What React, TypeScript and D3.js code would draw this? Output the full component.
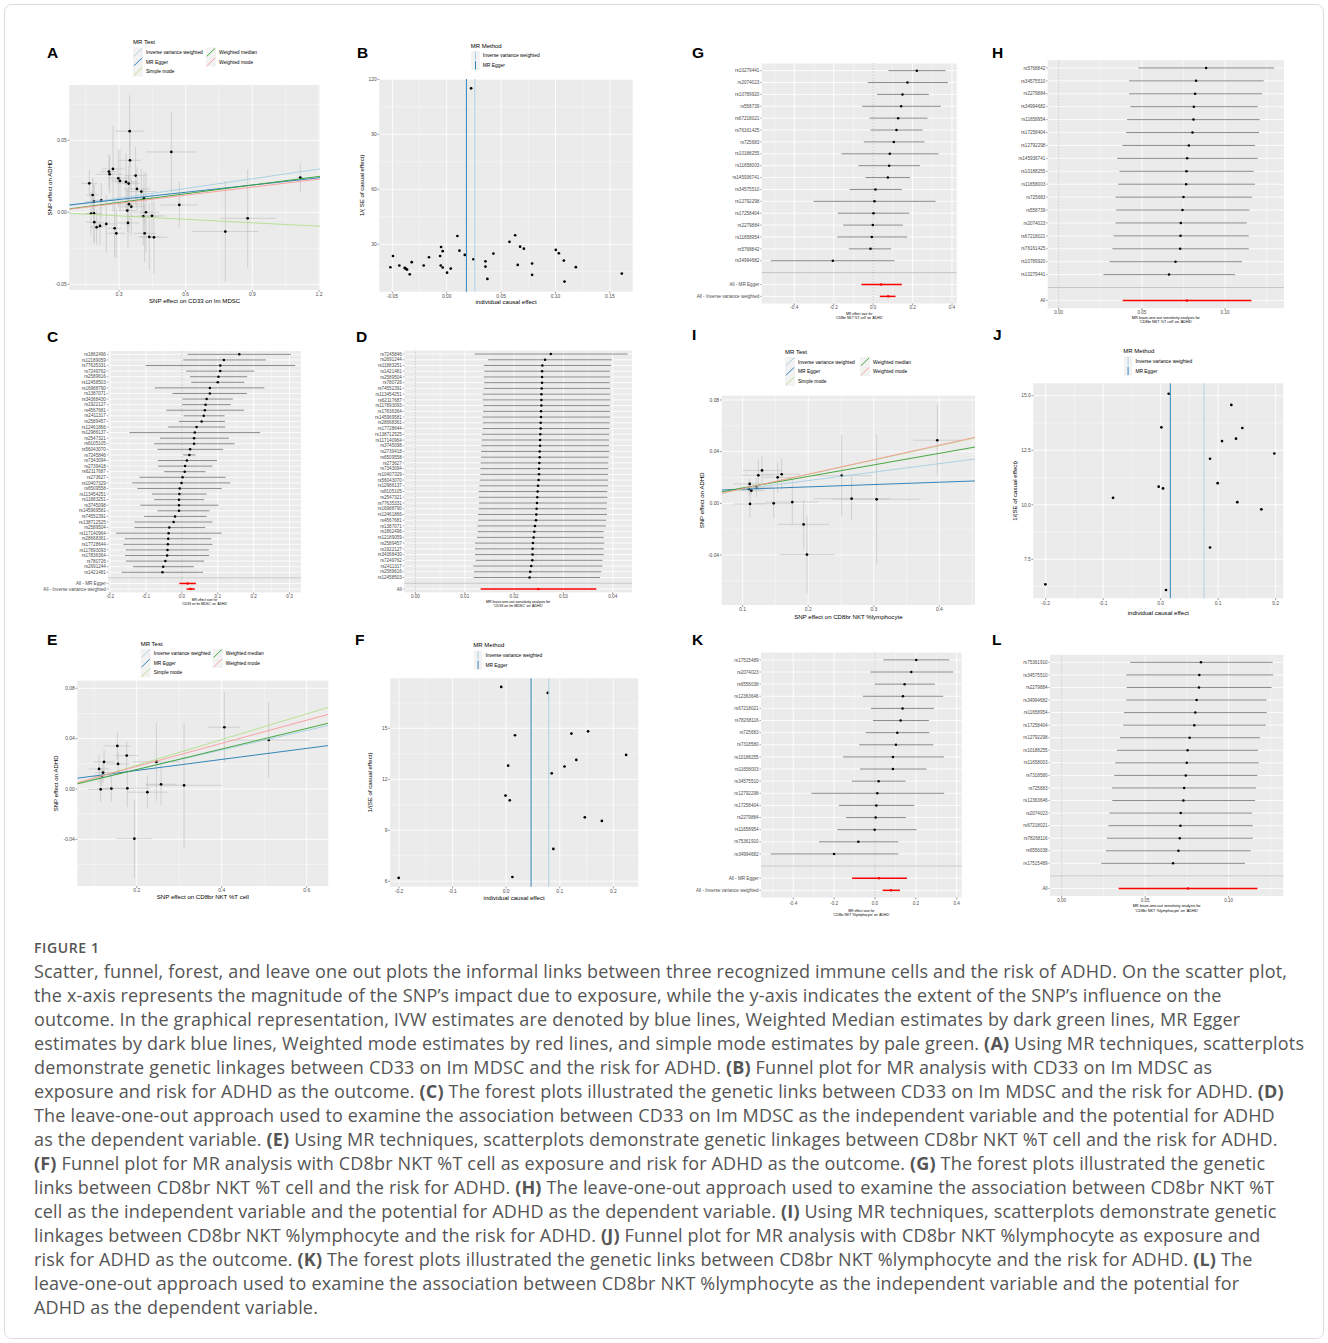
import React from "react";
import * as d3 from "d3";

// ---------- shared method legend ----------
const METHODS = ["Inverse variance weighted", "MR Egger", "Simple mode", "Weighted median", "Weighted mode"];
const METHOD_COLORS = ["#a6cee3", "#1f78b4", "#b2df8a", "#33a02c", "#fb9a99"];

// ---------- A: scatter, CD33 on Im MDSC ----------
const aExposure = [0.1665, 0.1815, 0.1875, 0.174, 0.1875, 0.189, 0.1995, 0.2145, 0.2205, 0.243, 0.255, 0.258, 0.273, 0.2805, 0.288, 0.297, 0.3045, 0.3315, 0.3435, 0.348, 0.3495, 0.3375, 0.3405, 0.345, 0.3555, 0.375, 0.381, 0.4005, 0.4125, 0.4095, 0.4215, 0.4155, 0.4365, 0.4485, 0.4575, 0.5355, 0.5715, 0.7785, 0.879, 1.116];
const aOutcome = [0.0201, 0.012, 0.0074, -0.0009, -0.0007, -0.0069, -0.0104, -0.0095, 0.0083, -0.0081, 0.0282, 0.0264, 0.0301, -0.0111, -0.0146, 0.0236, 0.0218, 0.0211, 0.0199, 0.0563, 0.0361, 0.0012, -0.0074, 0.0056, 0.0039, 0.0255, 0.0162, 0.0144, 0.0097, -0.0028, 0.0, -0.0146, -0.0171, -0.0025, -0.0174, 0.0419, 0.0051, -0.0134, -0.0042, 0.0241];
const aExposureSe = [0.037, 0.03, 0.04, 0.03, 0.035, 0.04, 0.03, 0.03, 0.05, 0.04, 0.04, 0.06, 0.05, 0.03, 0.04, 0.05, 0.04, 0.05, 0.05, 0.063, 0.05, 0.04, 0.05, 0.05, 0.06, 0.05, 0.06, 0.07, 0.05, 0.07, 0.06, 0.05, 0.05, 0.06, 0.06, 0.114, 0.084, 0.15, 0.125, 0.014];
const aOutcomeSe = [0.0095, 0.012, 0.012, 0.015, 0.02, 0.015, 0.012, 0.013, 0.012, 0.02, 0.012, 0.013, 0.03, 0.02, 0.017, 0.02, 0.022, 0.02, 0.012, 0.025, 0.02, 0.015, 0.018, 0.02, 0.02, 0.02, 0.015, 0.016, 0.018, 0.02, 0.028, 0.02, 0.023, 0.016, 0.025, 0.028, 0.016, 0.035, 0.034, 0.01];
const aIntercepts = [0.003, 0.0038, -0.0001, 0.0008, 0.0007];
const aSlopes = [0.0225, 0.0168, -0.008, 0.0201, 0.0186];

// ---------- B: funnel ----------
const bEffect = [-0.0518, -0.0494, -0.0436, -0.0387, -0.0374, -0.0365, -0.038, -0.034, -0.0322, -0.0212, -0.0163, -0.0061, -0.0055, -0.0052, -0.0037, -0.0037, 0.0003, 0.0037, 0.0098, 0.0117, 0.0166, 0.0224, 0.0245, 0.0356, 0.0356, 0.0374, 0.0429, 0.0577, 0.0629, 0.0653, 0.0675, 0.0709, 0.0785, 0.0785, 0.1003, 0.1031, 0.1077, 0.1083, 0.1187, 0.161];
const bPrecision = [17.45, 23.6, 18.4, 17.1, 16.5, 16.2, 16.9, 13.6, 20.2, 18.4, 22.9, 23.6, 18.4, 28.5, 26.2, 17.3, 14.5, 16.7, 34.5, 26.5, 24.2, 115.1, 21.8, 20.7, 17.8, 11.1, 24.9, 31.3, 34.9, 18.7, 28.7, 27.6, 19.5, 13.3, 26.9, 25.1, 21.1, 9.6, 17.5, 14.0];
const bMethodEffect = [0.0258, 0.0181]; // IVW, MR Egger

// ---------- C: forest ----------
const cSnps = ["rs1862496", "rs12189059", "rs77635331", "rs7249762", "rs2589616", "rs12458503", "rs16988790", "rs1387071", "rs34368430", "rs1922127", "rs4567681", "rs2411317", "rs2589457", "rs12461866", "rs12986137", "rs2547321", "rs8105105", "rs56043070", "rs7245846", "rs7343094", "rs2739418", "rs62117687", "rs273627", "rs10407329", "rs6509558", "rs113454251", "rs11883251", "rs3745098", "rs145969581", "rs74552391", "rs138712525", "rs2589504", "rs117140964", "rs28668361", "rs17728644", "rs117893093", "rs17836364", "rs780726", "rs2691244", "rs1421481"];
const cEst = [0.16, 0.117, 0.107, 0.107, 0.102, 0.1, 0.078, 0.078, 0.069, 0.066, 0.064, 0.061, 0.055, 0.041, 0.036, 0.034, 0.034, 0.023, 0.021, 0.014, 0.009, 0.008, 0.002, -0.001, -0.006, -0.007, -0.008, -0.008, -0.008, -0.019, -0.023, -0.035, -0.037, -0.038, -0.039, -0.04, -0.041, -0.046, -0.052, -0.054];
const cLo = [0.016, 0.004, -0.101, 0.012, 0.023, 0.026, -0.075, -0.026, 0.002, 0.001, -0.043, 0.005, -0.008, -0.038, -0.146, -0.061, -0.077, -0.068, 0.004, -0.067, -0.066, -0.05, -0.118, -0.138, -0.124, -0.083, -0.077, -0.116, -0.068, -0.105, -0.132, -0.132, -0.184, -0.159, -0.163, -0.156, -0.158, -0.156, -0.136, -0.168];
const cHi = [0.304, 0.234, 0.316, 0.202, 0.182, 0.174, 0.23, 0.181, 0.142, 0.136, 0.173, 0.119, 0.12, 0.121, 0.218, 0.131, 0.147, 0.115, 0.038, 0.098, 0.085, 0.066, 0.122, 0.135, 0.111, 0.069, 0.062, 0.102, 0.077, 0.069, 0.085, 0.065, 0.111, 0.082, 0.085, 0.075, 0.076, 0.062, 0.033, 0.059];
const forestSummaryLabels = ["All - MR Egger", "All - Inverse variance weighted"];
const cSumEst = [0.016, 0.024];
const cSumLo = [-0.007, 0.013];
const cSumHi = [0.039, 0.036];

// ---------- D: leave-one-out ----------
const dSnps = ["rs7245846", "rs2691244", "rs11883251", "rs1421481", "rs2589504", "rs780726", "rs74552391", "rs113454251", "rs62117687", "rs117893093", "rs17836364", "rs145969581", "rs28668361", "rs17728644", "rs138712525", "rs117140964", "rs3745098", "rs2739418", "rs6509558", "rs273627", "rs7343094", "rs10407329", "rs56043070", "rs12986137", "rs8105105", "rs2547321", "rs77635331", "rs16988790", "rs12461866", "rs4567681", "rs1387071", "rs1862496", "rs12189059", "rs2589457", "rs1922127", "rs34368430", "rs7249762", "rs2411317", "rs2589616", "rs12458503"];
const dEst = [0.02744, 0.02628, 0.02573, 0.02567, 0.02567, 0.02567, 0.0256, 0.02553, 0.02553, 0.02553, 0.02546, 0.02546, 0.02539, 0.02539, 0.02532, 0.02526, 0.02526, 0.02519, 0.02519, 0.02512, 0.02505, 0.02505, 0.02498, 0.02485, 0.02478, 0.02471, 0.02464, 0.02457, 0.02451, 0.02444, 0.02423, 0.0241, 0.02396, 0.02382, 0.02375, 0.02375, 0.02369, 0.02348, 0.02328, 0.02314];
const dLo = [0.01201, 0.01468, 0.01386, 0.01399, 0.01386, 0.01392, 0.01386, 0.01365, 0.01365, 0.01379, 0.01372, 0.01358, 0.01365, 0.01365, 0.01352, 0.01345, 0.01338, 0.01331, 0.01331, 0.01324, 0.01317, 0.01317, 0.01304, 0.01297, 0.01283, 0.01283, 0.0129, 0.01283, 0.0127, 0.0127, 0.01256, 0.01263, 0.01249, 0.01208, 0.01208, 0.01208, 0.01222, 0.01174, 0.01188, 0.01181];
const dHi = [0.043, 0.0398, 0.03966, 0.03945, 0.03945, 0.03939, 0.03945, 0.03952, 0.03952, 0.03939, 0.03945, 0.03945, 0.03939, 0.03932, 0.03932, 0.03925, 0.03925, 0.03932, 0.03918, 0.03911, 0.03911, 0.03904, 0.03904, 0.03904, 0.03891, 0.03891, 0.03884, 0.03877, 0.03884, 0.0387, 0.03863, 0.03816, 0.03816, 0.03829, 0.03816, 0.03816, 0.03795, 0.03788, 0.03768, 0.03741];
const dAll = [0.02491, 0.01324, 0.03666]; // est, lo, hi

// ---------- E: scatter, CD8br NKT %T cell ----------
const eExposure = [0.1114, 0.1153, 0.1176, 0.1208, 0.1231, 0.1404, 0.1545, 0.1561, 0.1765, 0.178, 0.1945, 0.2251, 0.2463, 0.2573, 0.3114, 0.4063, 0.5106];
const eOutcome = [0.0159, -0.0003, 0.0098, 0.013, 0.0215, 0.0003, 0.0342, 0.0199, 0.0265, 0.0005, -0.0395, -0.0026, 0.0215, 0.0037, 0.0029, 0.049, 0.0389];
const eExposureSe = [0.0247, 0.031, 0.02, 0.02, 0.025, 0.033, 0.032, 0.027, 0.027, 0.053, 0.042, 0.048, 0.055, 0.037, 0.089, 0.038, 0.096];
const eOutcomeSe = [0.0113, 0.0103, 0.007, 0.008, 0.0093, 0.0103, 0.011, 0.0093, 0.0114, 0.015, 0.031, 0.013, 0.031, 0.0165, 0.0496, 0.028, 0.03];
const eIntercepts = [0, 0.0059, -0.0017, -0.0009, -0.0005];
const eSlopes = [0.0775, 0.0439, 0.1023, 0.0816, 0.0919];

// ---------- F: funnel ----------
const fEffect = [-0.2006, -0.0092, 0.0777, 0.0165, 0.0037, -0.0012, 0.0067, 0.0116, 0.085, 0.1089, 0.1217, 0.1309, 0.1529, 0.1468, 0.1786, 0.0881, 0.2239];
const fPrecision = [6.196, 17.43, 17.08, 14.59, 12.8, 11.04, 10.76, 6.25, 12.35, 12.75, 14.69, 13.14, 14.82, 9.76, 9.55, 7.9, 13.43];
const fMethodEffect = [0.0795, 0.0465];

// ---------- G: forest ----------
const gSnps = ["rs10279441", "rs2074023", "rs10789920", "rs558739", "rs67218021", "rs76161425", "rs725683", "rs10188255", "rs11658003", "rs145936741", "rs34575510", "rs12792298", "rs17258404", "rs2279884", "rs11658954", "rs5768842", "rs34994682"];
const gEst = [0.2216, 0.1742, 0.1488, 0.1421, 0.1268, 0.1184, 0.1049, 0.0846, 0.0812, 0.0744, 0.0118, 0.0068, 0.0017, -0.0017, -0.0068, -0.0135, -0.2047];
const gLo = [0.0778, -0.0271, 0.0203, -0.0558, -0.0186, -0.0135, -0.0474, -0.1607, -0.0744, -0.0389, -0.1201, -0.3027, -0.1793, -0.1522, -0.1827, -0.1235, -0.5192];
const gHi = [0.367, 0.379, 0.2824, 0.3433, 0.2757, 0.2503, 0.2605, 0.3315, 0.2385, 0.1877, 0.1455, 0.3163, 0.1827, 0.1505, 0.1725, 0.0913, 0.1082];
const gSumEst = [0.0406, 0.0761];
const gSumLo = [-0.0592, 0.0338];
const gSumHi = [0.1455, 0.1133];

// ---------- H: leave-one-out ----------
const hSnps = ["rs5768842", "rs34575510", "rs2279884", "rs34994682", "rs11658954", "rs17258404", "rs12792298", "rs145936741", "rs10188255", "rs11658003", "rs725683", "rs558739", "rs2074023", "rs67218021", "rs76161425", "rs10789920", "rs10279441"];
const hEst = [0.0886, 0.0826, 0.082, 0.0812, 0.081, 0.0804, 0.0782, 0.0772, 0.0768, 0.0766, 0.075, 0.0744, 0.0734, 0.0732, 0.073, 0.0702, 0.0663];
const hLo = [0.0479, 0.0423, 0.0423, 0.0431, 0.0411, 0.0405, 0.0383, 0.0351, 0.0365, 0.0357, 0.0341, 0.0345, 0.0341, 0.0329, 0.0323, 0.0305, 0.0269];
const hHi = [0.1295, 0.1232, 0.1222, 0.1196, 0.1208, 0.1204, 0.118, 0.1196, 0.1172, 0.118, 0.1162, 0.1146, 0.113, 0.1142, 0.1142, 0.1102, 0.106];
const hAll = [0.077, 0.0385, 0.1158];

// ---------- I: scatter, CD8br NKT %lymphocyte ----------
const iExposure = [0.1107, 0.1112, 0.1132, 0.1097, 0.1208, 0.1239, 0.1295, 0.1473, 0.1534, 0.1595, 0.1757, 0.193, 0.1981, 0.251, 0.2662, 0.3044, 0.3969];
const iOutcome = [0.015, -0.0005, 0.0098, 0.0111, 0.0124, 0.0217, 0.0255, 0.0, 0.0201, 0.0225, 0.001, -0.0163, -0.0397, 0.0214, 0.0036, 0.0031, 0.0488];
const iExposureSe = [0.025, 0.025, 0.021, 0.02, 0.025, 0.025, 0.029, 0.03, 0.023, 0.028, 0.04, 0.039, 0.042, 0.046, 0.058, 0.067, 0.037];
const iOutcomeSe = [0.004, 0.0106, 0.003, 0.005, 0.0073, 0.012, 0.0106, 0.0116, 0.012, 0.012, 0.018, 0.019, 0.03, 0.0315, 0.017, 0.05, 0.0277];
const iIntercepts = [0.0045, 0.0091, 0.0002, 0.0029, 0.0001];
const iSlopes = [0.0655, 0.0181, 0.111, 0.0895, 0.1123];

// ---------- J: funnel ----------
const jEffect = [-0.2006, -0.0829, -0.0035, 0.0041, 0.0012, 0.0139, 0.0093, 0.0858, 0.0858, 0.0991, 0.1067, 0.1229, 0.131, 0.1333, 0.142, 0.1751, 0.1977];
const jPrecision = [6.35, 10.32, 10.83, 10.75, 13.55, 15.09, 6.09, 12.11, 8.04, 10.99, 12.92, 14.58, 13.03, 10.12, 13.52, 9.79, 12.35];
const jMethodEffect = [0.0754, 0.0168];

// ---------- K: forest ----------
const kSnps = ["rs17515489", "rs2074023", "rs6556038", "rs12363646", "rs67218021", "rs78268116", "rs725683", "rs7318580", "rs10188255", "rs11658003", "rs34575510", "rs12792298", "rs17258404", "rs2279884", "rs11658954", "rs75361910", "rs34994682"];
const kEst = [0.202, 0.1776, 0.145, 0.1369, 0.1352, 0.1255, 0.1092, 0.1026, 0.088, 0.088, 0.0179, 0.0114, 0.0065, 0.0033, -0.0016, -0.0815, -0.2004];
const kLo = [0.0407, -0.0228, 0.0, -0.0587, -0.0196, -0.0098, -0.0456, -0.0766, -0.1564, -0.0733, -0.114, -0.3112, -0.1759, -0.1418, -0.1841, -0.2738, -0.5104];
const kHi = [0.3633, 0.3829, 0.2933, 0.334, 0.2884, 0.264, 0.2656, 0.2851, 0.3373, 0.2525, 0.1499, 0.3389, 0.1923, 0.1515, 0.2037, 0.1141, 0.1141];
const kSumEst = [0.0196, 0.0782];
const kSumLo = [-0.1124, 0.0375];
const kSumHi = [0.1564, 0.1222];

// ---------- L: leave-one-out ----------
const lSnps = ["rs75361910", "rs34575510", "rs2279884", "rs34994682", "rs11658954", "rs17258404", "rs12792298", "rs10188255", "rs11658003", "rs7318580", "rs725683", "rs12363646", "rs2074023", "rs67218021", "rs78268116", "rs6556038", "rs17515489"];
const lEst = [0.0834, 0.0824, 0.0822, 0.0808, 0.08, 0.0794, 0.0766, 0.0754, 0.0749, 0.0743, 0.0733, 0.0729, 0.0713, 0.0711, 0.0707, 0.0699, 0.0667];
const lLo = [0.0411, 0.0387, 0.0389, 0.0387, 0.0373, 0.0369, 0.0349, 0.0331, 0.0321, 0.0315, 0.0301, 0.0303, 0.0287, 0.0279, 0.0271, 0.0265, 0.0237];
const lHi = [0.1263, 0.1267, 0.1257, 0.1226, 0.1228, 0.1222, 0.1188, 0.1176, 0.118, 0.1172, 0.1164, 0.1158, 0.114, 0.1144, 0.1144, 0.1132, 0.1098];
const lAll = [0.0756, 0.0341, 0.1172];

// ---------- caption ----------
const captionLines = [
  "Scatter, funnel, forest, and leave one out plots the informal links between three recognized immune cells and the risk of ADHD. On the scatter plot,",
  "the x-axis represents the magnitude of the SNP\u2019s impact due to exposure, while the y-axis indicates the extent of the SNP\u2019s influence on the",
  "outcome. In the graphical representation, IVW estimates are denoted by blue lines, Weighted Median estimates by dark green lines, MR Egger",
  "estimates by dark blue lines, Weighted mode estimates by red lines, and simple mode estimates by pale green. (A) Using MR techniques, scatterplots",
  "demonstrate genetic linkages between CD33 on Im MDSC and the risk for ADHD. (B) Funnel plot for MR analysis with CD33 on Im MDSC as",
  "exposure and risk for ADHD as the outcome. (C) The forest plots illustrated the genetic links between CD33 on Im MDSC and the risk for ADHD. (D)",
  "The leave-one-out approach used to examine the association between CD33 on Im MDSC as the independent variable and the potential for ADHD",
  "as the dependent variable. (E) Using MR techniques, scatterplots demonstrate genetic linkages between CD8br NKT %T cell and the risk for ADHD.",
  "(F) Funnel plot for MR analysis with CD8br NKT %T cell as exposure and risk for ADHD as the outcome. (G) The forest plots illustrated the genetic",
  "links between CD8br NKT %T cell and the risk for ADHD. (H) The leave-one-out approach used to examine the association between CD8br NKT %T",
  "cell as the independent variable and the potential for ADHD as the dependent variable. (I) Using MR techniques, scatterplots demonstrate genetic",
  "linkages between CD8br NKT %lymphocyte and the risk for ADHD. (J) Funnel plot for MR analysis with CD8br NKT %lymphocyte as exposure and",
  "risk for ADHD as the outcome. (K) The forest plots illustrated the genetic links between CD8br NKT %lymphocyte and the risk for ADHD. (L) The",
  "leave-one-out approach used to examine the association between CD8br NKT %lymphocyte as the independent variable and the potential for",
  "ADHD as the dependent variable.",
];

// ---------- drawing ----------
const FONT = "'Liberation Sans', Arial, Helvetica, sans-serif";
const BG = "#ebebeb";
const TICK_TEXT = "#4d4d4d";
const TICK_LINE = "#333333";

type Rect = { x0: number; x1: number; y0: number; y1: number };

const fmt = (dec: number) => (v: number) => (Math.abs(v) < 1e-9 ? 0 : v).toFixed(dec);

function minorBreaks(ticks: number[], domain: number[]) {
  const step = ticks[1] - ticks[0];
  const out: number[] = [];
  for (let i = -1; i < ticks.length; i++) {
    const v = ticks[0] + (i + 0.5) * step;
    if (v > domain[0] && v < domain[1]) out.push(v);
  }
  return out;
}

function Letter({ x, y, t }: { x: number; y: number; t: string }) {
  return (
    <text x={x} y={y} fontFamily={FONT} fontWeight={700} fontSize={15.5} fill="#000">
      {t}
    </text>
  );
}

function Background({ r, x, y, xTicks, yTicks, yRows }: any) {
  const xm = minorBreaks(xTicks, x.domain());
  const ym = yRows ? [] : minorBreaks(yTicks, y.domain());
  const yMajor = yRows ? yRows : yTicks.map((t: number) => y(t));
  return (
    <g>
      <rect x={r.x0} y={r.y0} width={r.x1 - r.x0} height={r.y1 - r.y0} fill={BG} />
      {xm.map((v: number) => (
        <line key={"xm" + v} x1={x(v)} x2={x(v)} y1={r.y0} y2={r.y1} stroke="#fff" strokeWidth={0.4} />
      ))}
      {ym.map((v: number) => (
        <line key={"ym" + v} x1={r.x0} x2={r.x1} y1={y(v)} y2={y(v)} stroke="#fff" strokeWidth={0.4} />
      ))}
      {xTicks.map((v: number) => (
        <line key={"xM" + v} x1={x(v)} x2={x(v)} y1={r.y0} y2={r.y1} stroke="#fff" strokeWidth={0.85} />
      ))}
      {yMajor.map((py: number, i: number) => (
        <line key={"yM" + i} x1={r.x0} x2={r.x1} y1={py} y2={py} stroke="#fff" strokeWidth={0.85} />
      ))}
    </g>
  );
}

function XAxis({ r, x, ticks, dec, fs, dy }: any) {
  return (
    <g fontFamily={FONT}>
      {ticks.map((t: number) => (
        <g key={t}>
          <line x1={x(t)} x2={x(t)} y1={r.y1} y2={r.y1 + 1.8} stroke={TICK_LINE} strokeWidth={0.5} />
          <text x={x(t)} y={r.y1 + dy} textAnchor="middle" fontSize={fs} fill={TICK_TEXT}>
            {fmt(dec)(t)}
          </text>
        </g>
      ))}
    </g>
  );
}

function YAxis({ r, y, ticks, dec, fs }: any) {
  return (
    <g fontFamily={FONT}>
      {ticks.map((t: number) => (
        <g key={t}>
          <line x1={r.x0 - 1.8} x2={r.x0} y1={y(t)} y2={y(t)} stroke={TICK_LINE} strokeWidth={0.5} />
          <text x={r.x0 - 2.6} y={y(t) + fs * 0.36} textAnchor="end" fontSize={fs} fill={TICK_TEXT}>
            {fmt(dec)(t)}
          </text>
        </g>
      ))}
    </g>
  );
}

function AxisTitles({ r, xLabel, yLabel, xLabelY, yLabelX, fs }: any) {
  const cy = (r.y0 + r.y1) / 2;
  return (
    <g fontFamily={FONT} fontSize={fs} fill="#000">
      <text x={(r.x0 + r.x1) / 2} y={xLabelY} textAnchor="middle">
        {xLabel}
      </text>
      <text transform={`translate(${yLabelX},${cy}) rotate(-90)`} textAnchor="middle">
        {yLabel}
      </text>
    </g>
  );
}

function ScatterLegend({ x, y, colGap }: { x: number; y: number; colGap: number }) {
  const kw = 10;
  const kh = 9.6;
  const cols = [
    [0, 1, 2],
    [3, 4],
  ];
  return (
    <g fontFamily={FONT}>
      <text x={x} y={y} fontSize={6} fill="#000">
        MR Test
      </text>
      {cols.map((col, ci) =>
        col.map((mi, ri) => {
          const kx = x + ci * colGap;
          const ky = y + 3.2 + ri * kh;
          return (
            <g key={mi}>
              <rect x={kx} y={ky} width={kw} height={kh} fill="#f2f2f2" />
              <line x1={kx + 0.8} y1={ky + kh - 0.8} x2={kx + kw - 0.8} y2={ky + 0.8} stroke={METHOD_COLORS[mi]} strokeWidth={0.9} />
              <text x={kx + kw + 3} y={ky + kh / 2 + 1.7} fontSize={4.9} fill="#000">
                {METHODS[mi]}
              </text>
            </g>
          );
        })
      )}
    </g>
  );
}

function FunnelLegend({ x, y }: { x: number; y: number }) {
  const kw = 8.6;
  const kh = 9.6;
  return (
    <g fontFamily={FONT}>
      <text x={x} y={y} fontSize={6} fill="#000">
        MR Method
      </text>
      {[0, 1].map((mi) => {
        const ky = y + 3.2 + mi * kh;
        return (
          <g key={mi}>
            <rect x={x + 0.5} y={ky} width={kw} height={kh} fill="#f2f2f2" />
            <line x1={x + 0.5 + kw / 2} x2={x + 0.5 + kw / 2} y1={ky + 0.6} y2={ky + kh - 0.6} stroke={METHOD_COLORS[mi]} strokeWidth={0.9} />
            <text x={x + kw + 3.5} y={ky + kh / 2 + 1.7} fontSize={4.9} fill="#000">
              {METHODS[mi]}
            </text>
          </g>
        );
      })}
    </g>
  );
}

function ScatterPanel(p: any) {
  const r: Rect = p.rect;
  const x = d3.scaleLinear().domain(p.xDomain).range([r.x0, r.x1]);
  const y = d3.scaleLinear().domain(p.yDomain).range([r.y1, r.y0]);
  const clip = "clip-" + p.id;
  const pts = p.bx.map((v: number, i: number) => ({ bx: v, by: p.by[i], sx: p.sx[i], sy: p.sy[i] }));
  const [xa, xb] = p.xDomain;
  return (
    <g>
      <defs>
        <clipPath id={clip}>
          <rect x={r.x0} y={r.y0} width={r.x1 - r.x0} height={r.y1 - r.y0} />
        </clipPath>
      </defs>
      <Background r={r} x={x} y={y} xTicks={p.xTicks} yTicks={p.yTicks} />
      <g clipPath={`url(#${clip})`}>
        {pts.map((d: any, i: number) => (
          <line key={"v" + i} x1={x(d.bx)} x2={x(d.bx)} y1={y(d.by - d.sy)} y2={y(d.by + d.sy)} stroke="#bebebe" strokeWidth={0.6} />
        ))}
        {pts.map((d: any, i: number) => (
          <line key={"h" + i} x1={x(d.bx - d.sx)} x2={x(d.bx + d.sx)} y1={y(d.by)} y2={y(d.by)} stroke="#bebebe" strokeWidth={0.6} />
        ))}
        {pts.map((d: any, i: number) => (
          <circle key={"p" + i} cx={x(d.bx)} cy={y(d.by)} r={1.35} fill="#000" />
        ))}
        {METHODS.map((m, i) => (
          <line
            key={m}
            x1={x(xa)}
            x2={x(xb)}
            y1={y(p.intercepts[i] + p.slopes[i] * xa)}
            y2={y(p.intercepts[i] + p.slopes[i] * xb)}
            stroke={METHOD_COLORS[i]}
            strokeWidth={0.9}
          />
        ))}
      </g>
      <XAxis r={r} x={x} ticks={p.xTicks} dec={p.xDec} fs={4.9} dy={6.4} />
      <YAxis r={r} y={y} ticks={p.yTicks} dec={p.yDec} fs={4.9} />
      <AxisTitles r={r} xLabel={p.xLabel} yLabel={p.yLabel} xLabelY={p.xLabelY} yLabelX={p.yLabelX} fs={6.1} />
      <ScatterLegend x={p.legend[0]} y={p.legend[1]} colGap={p.legend[2]} />
    </g>
  );
}

function FunnelPanel(p: any) {
  const r: Rect = p.rect;
  const x = d3.scaleLinear().domain(p.xDomain).range([r.x0, r.x1]);
  const y = d3.scaleLinear().domain(p.yDomain).range([r.y1, r.y0]);
  return (
    <g>
      <Background r={r} x={x} y={y} xTicks={p.xTicks} yTicks={p.yTicks} />
      {p.effect.map((b: number, i: number) => (
        <circle key={i} cx={x(b)} cy={y(p.precision[i])} r={1.35} fill="#000" />
      ))}
      {p.methodEffect.map((b: number, i: number) => (
        <line key={"m" + i} x1={x(b)} x2={x(b)} y1={r.y0} y2={r.y1} stroke={METHOD_COLORS[i]} strokeWidth={0.9} />
      ))}
      <XAxis r={r} x={x} ticks={p.xTicks} dec={p.xDec} fs={4.9} dy={6.4} />
      <YAxis r={r} y={y} ticks={p.yTicks} dec={p.yDec} fs={4.9} />
      <AxisTitles r={r} xLabel="individual causal effect" yLabel={p.yLabel} xLabelY={p.xLabelY} yLabelX={p.yLabelX} fs={6.1} />
      <FunnelLegend x={p.legend[0]} y={p.legend[1]} />
    </g>
  );
}

function ForestPanel(p: any) {
  const r: Rect = p.rect;
  const rows = [...p.snps, "", ...p.sumLabels];
  const x = d3.scaleLinear().domain(p.xDomain).range([r.x0, r.x1]);
  const y = d3.scalePoint<string>().domain(rows).range([r.y0, r.y1]).padding(0.6);
  const rowY = rows.map((d) => y(d) as number);
  const fs = 4.6;
  const snpRows = p.snps.map((s: string, i: number) => ({ s, b: p.est[i], lo: p.lo[i], hi: p.hi[i] }));
  const sumRows = p.sumLabels.map((s: string, i: number) => ({ s, b: p.sumEst[i], lo: p.sumLo[i], hi: p.sumHi[i] }));
  return (
    <g fontFamily={FONT}>
      <Background r={r} x={x} y={y} xTicks={p.xTicks} yTicks={[]} yRows={rowY} />
      <line x1={r.x0} x2={r.x1} y1={y("")} y2={y("")} stroke="#bebebe" strokeWidth={0.9} />
      <line x1={x(0)} x2={x(0)} y1={r.y0} y2={r.y1} stroke="#666" strokeWidth={0.5} strokeDasharray="0.6,0.9" />
      {snpRows.map((d: any) => (
        <g key={d.s}>
          <line x1={x(d.lo)} x2={x(d.hi)} y1={y(d.s)} y2={y(d.s)} stroke="#6f6f6f" strokeWidth={0.8} />
          <circle cx={x(d.b)} cy={y(d.s)} r={1.25} fill="#000" />
        </g>
      ))}
      {sumRows.map((d: any) => (
        <g key={d.s}>
          <line x1={x(d.lo)} x2={x(d.hi)} y1={y(d.s)} y2={y(d.s)} stroke="#ff0000" strokeWidth={1.5} />
          <circle cx={x(d.b)} cy={y(d.s)} r={1.25} fill="#ff0000" />
        </g>
      ))}
      {rows.map((d, i) =>
        d === "" ? null : (
          <g key={"t" + i}>
            <line x1={r.x0 - 1.6} x2={r.x0} y1={rowY[i]} y2={rowY[i]} stroke={TICK_LINE} strokeWidth={0.4} />
            <text x={r.x0 - 2.4} y={rowY[i] + fs * 0.36} textAnchor="end" fontSize={fs} fill={TICK_TEXT}>
              {d}
            </text>
          </g>
        )
      )}
      <XAxis r={r} x={x} ticks={p.xTicks} dec={p.xDec} fs={fs} dy={p.tickDy} />
      {p.title.map((t: string, i: number) => (
        <text key={t} x={(r.x0 + r.x1) / 2} y={r.y1 + p.titleDy[i]} textAnchor="middle" fontSize={p.titleFs} fill="#000">
          {t}
        </text>
      ))}
    </g>
  );
}

function Caption() {
  return (
    <g fontFamily="'Open Sans', 'Noto Sans', sans-serif" fill="#555">
      <text x={34} y={953} fontSize={14} fontWeight={600} letterSpacing={0.6}>
        FIGURE 1
      </text>
      {captionLines.map((line, i) => (
        <text key={i} x={34} y={978 + i * 24} fontSize={18} letterSpacing={0.17}>
          {line.split(/(\([A-L]\))/).map((seg, j) =>
            /^\([A-L]\)$/.test(seg) ? (
              <tspan key={j} fontWeight={700}>
                {seg}
              </tspan>
            ) : (
              <tspan key={j}>{seg}</tspan>
            )
          )}
        </text>
      ))}
    </g>
  );
}

export default function App() {
  return (
    <div style={{ position: "absolute", left: 0, top: 0 }}>
      <svg width={1328} height={1343} viewBox="0 0 1328 1343">
        <rect x={0} y={0} width={1328} height={1343} fill="#fff" />
        <rect x={4.5} y={4.5} width={1319} height={1334} rx={7} fill="#fff" stroke="#dcdcdc" strokeWidth={1} />

        <Letter x={47} y={58} t="A" />
        <ScatterPanel
          id="a"
          rect={{ x0: 69.3, x1: 320, y0: 85, y1: 290 }}
          xDomain={[0.0765, 1.2045]}
          yDomain={[-0.054, 0.0884]}
          xTicks={[0.3, 0.6, 0.9, 1.2]}
          yTicks={[-0.05, 0, 0.05]}
          xDec={1}
          yDec={2}
          bx={aExposure}
          by={aOutcome}
          sx={aExposureSe}
          sy={aOutcomeSe}
          intercepts={aIntercepts}
          slopes={aSlopes}
          xLabel="SNP effect on CD33 on Im MDSC"
          yLabel="SNP effect on ADHD"
          xLabelY={303}
          yLabelX={52}
          legend={[133, 44.3, 73]}
        />

        <Letter x={357} y={58} t="B" />
        <FunnelPanel
          rect={{ x0: 379.3, x1: 632.7, y0: 79, y1: 291.7 }}
          xDomain={[-0.062, 0.171]}
          yDomain={[4.1, 120.2]}
          xTicks={[-0.05, 0, 0.05, 0.1, 0.15]}
          yTicks={[30, 60, 90, 120]}
          xDec={2}
          yDec={0}
          effect={bEffect}
          precision={bPrecision}
          methodEffect={bMethodEffect}
          yLabel="1/( SE of casual effect)"
          xLabelY={304}
          yLabelX={363.8}
          legend={[470.7, 47.7]}
        />

        <Letter x={47} y={342} t="C" />
        <ForestPanel
          rect={{ x0: 108.3, x1: 301, y0: 351, y1: 592.4 }}
          xDomain={[-0.205, 0.332]}
          xTicks={[-0.2, -0.1, 0, 0.1, 0.2, 0.3]}
          xDec={1}
          snps={cSnps}
          est={cEst}
          lo={cLo}
          hi={cHi}
          sumLabels={forestSummaryLabels}
          sumEst={cSumEst}
          sumLo={cSumLo}
          sumHi={cSumHi}
          title={["MR effect size for", "'CD33 on Im MDSC' on 'ADHD'"]}
          titleFs={3.3}
          tickDy={5.6}
          titleDy={[8.6, 12.4]}
        />

        <Letter x={356} y={342} t="D" />
        <ForestPanel
          rect={{ x0: 404.3, x1: 632, y0: 350.6, y1: 592.4 }}
          xDomain={[-0.00225, 0.0439]}
          xTicks={[0, 0.01, 0.02, 0.03, 0.04]}
          xDec={2}
          snps={dSnps}
          est={dEst}
          lo={dLo}
          hi={dHi}
          sumLabels={["All"]}
          sumEst={[dAll[0]]}
          sumLo={[dAll[1]]}
          sumHi={[dAll[2]]}
          title={["MR leave-one-out sensitivity analysis for", "'CD33 on Im MDSC' on 'ADHD'"]}
          titleFs={3.6}
          tickDy={6}
          titleDy={[10.8, 14.6]}
        />

        <Letter x={47} y={645} t="E" />
        <ScatterPanel
          id="e"
          rect={{ x0: 77.3, x1: 328.3, y0: 680.7, y1: 886 }}
          xDomain={[0.0602, 0.6508]}
          yDomain={[-0.0771, 0.086]}
          xTicks={[0.2, 0.4, 0.6]}
          yTicks={[-0.04, 0, 0.04, 0.08]}
          xDec={1}
          yDec={2}
          bx={eExposure}
          by={eOutcome}
          sx={eExposureSe}
          sy={eOutcomeSe}
          intercepts={eIntercepts}
          slopes={eSlopes}
          xLabel="SNP effect on CD8br NKT %T cell"
          yLabel="SNP effect on ADHD"
          xLabelY={898.8}
          yLabelX={58}
          legend={[140.7, 645.5, 72]}
        />

        <Letter x={355} y={645} t="F" />
        <FunnelPanel
          rect={{ x0: 390, x1: 638.3, y0: 678.3, y1: 886.7 }}
          xDomain={[-0.2168, 0.2466]}
          yDomain={[5.68, 17.94]}
          xTicks={[-0.2, -0.1, 0, 0.1, 0.2]}
          yTicks={[6, 9, 12, 15]}
          xDec={1}
          yDec={0}
          effect={fEffect}
          precision={fPrecision}
          methodEffect={fMethodEffect}
          yLabel="1/(SE of casual effect)"
          xLabelY={899.8}
          yLabelX={372}
          legend={[473.3, 647.3]}
        />

        <Letter x={692} y={58} t="G" />
        <ForestPanel
          rect={{ x0: 761.7, x1: 956.7, y0: 63.5, y1: 303.5 }}
          xDomain={[-0.5655, 0.4239]}
          xTicks={[-0.4, -0.2, 0, 0.2, 0.4]}
          xDec={1}
          snps={gSnps}
          est={gEst}
          lo={gLo}
          hi={gHi}
          sumLabels={forestSummaryLabels}
          sumEst={gSumEst}
          sumLo={gSumLo}
          sumHi={gSumHi}
          title={["MR effect size for", "'CD8br NKT %T cell' on 'ADHD'"]}
          titleFs={3.4}
          tickDy={5.2}
          titleDy={[11.9, 15.8]}
        />

        <Letter x={992} y={58} t="H" />
        <ForestPanel
          rect={{ x0: 1047.7, x1: 1284, y0: 60.2, y1: 308.2 }}
          xDomain={[-0.0066, 0.1354]}
          xTicks={[0, 0.05, 0.1]}
          xDec={2}
          snps={hSnps}
          est={hEst}
          lo={hLo}
          hi={hHi}
          sumLabels={["All"]}
          sumEst={[hAll[0]]}
          sumLo={[hAll[1]]}
          sumHi={[hAll[2]]}
          title={["MR leave-one-out sensitivity analysis for", "'CD8br NKT %T cell' on 'ADHD'"]}
          titleFs={3.8}
          tickDy={5.4}
          titleDy={[10.5, 15]}
        />

        <Letter x={692} y={340} t="I" />
        <ScatterPanel
          id="i"
          rect={{ x0: 721.7, x1: 975, y0: 395.7, y1: 605 }}
          xDomain={[0.068, 0.4544]}
          yDomain={[-0.0787, 0.0833]}
          xTicks={[0.1, 0.2, 0.3, 0.4]}
          yTicks={[-0.04, 0, 0.04, 0.08]}
          xDec={1}
          yDec={2}
          bx={iExposure}
          by={iOutcome}
          sx={iExposureSe}
          sy={iOutcomeSe}
          intercepts={iIntercepts}
          slopes={iSlopes}
          xLabel="SNP effect on CD8br NKT %lymphocyte"
          yLabel="SNP effect on ADHD"
          xLabelY={618.8}
          yLabelX={703.8}
          legend={[785, 353.8, 75]}
        />

        <Letter x={993} y={340} t="J" />
        <FunnelPanel
          rect={{ x0: 1033.3, x1: 1283.3, y0: 383.3, y1: 598.3 }}
          xDomain={[-0.2216, 0.2133]}
          yDomain={[5.71, 15.57]}
          xTicks={[-0.2, -0.1, 0, 0.1, 0.2]}
          yTicks={[7.5, 10, 12.5, 15]}
          xDec={1}
          yDec={1}
          effect={jEffect}
          precision={jPrecision}
          methodEffect={jMethodEffect}
          yLabel="1/(SE of casual effect)"
          xLabelY={615.4}
          yLabelX={1017}
          legend={[1123.3, 353.3]}
        />

        <Letter x={692} y={645} t="K" />
        <ForestPanel
          rect={{ x0: 761, x1: 961.7, y0: 652.6, y1: 897.6 }}
          xDomain={[-0.558, 0.4245]}
          xTicks={[-0.4, -0.2, 0, 0.2, 0.4]}
          xDec={1}
          snps={kSnps}
          est={kEst}
          lo={kLo}
          hi={kHi}
          sumLabels={forestSummaryLabels}
          sumEst={kSumEst}
          sumLo={kSumLo}
          sumHi={kSumHi}
          title={["MR effect size for", "'CD8br NKT %lymphocyte' on 'ADHD'"]}
          titleFs={3.4}
          tickDy={7}
          titleDy={[14, 18.4]}
        />

        <Letter x={992} y={645} t="L" />
        <ForestPanel
          rect={{ x0: 1050, x1: 1283.3, y0: 654.8, y1: 896 }}
          xDomain={[-0.007, 0.1327]}
          xTicks={[0, 0.05, 0.1]}
          xDec={2}
          snps={lSnps}
          est={lEst}
          lo={lLo}
          hi={lHi}
          sumLabels={["All"]}
          sumEst={[lAll[0]]}
          sumLo={[lAll[1]]}
          sumHi={[lAll[2]]}
          title={["MR leave-one-out sensitivity analysis for", "'CD8br NKT %lymphocyte' on 'ADHD'"]}
          titleFs={3.8}
          tickDy={6.3}
          titleDy={[11.3, 16]}
        />

        <Caption />
      </svg>
    </div>
  );
}
